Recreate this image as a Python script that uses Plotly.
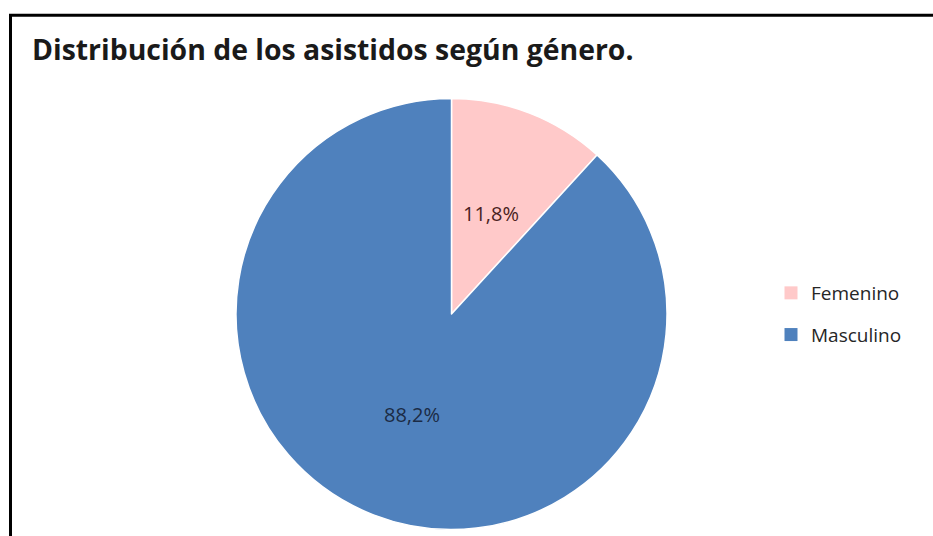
import math
import plotly.graph_objects as go

# Data
genders = ["Femenino", "Masculino"]
shares = [11.8, 88.2]
slice_colors = ["#FFC9C9", "#4F81BD"]
label_colors = ["#4A1F22", "#1B2B45"]
title_text = "Distribución de los asistidos según género."

W, H = 933, 536
# pie placement in pixels
cx, cy, R = 451.5, 314.0, 215.5


def px_x(x):
    return x / W


def px_y(y):
    return 1 - y / H


fig = go.Figure()

fig.add_trace(go.Pie(
    labels=genders,
    values=shares,
    sort=False,
    direction="clockwise",
    rotation=0,
    marker=dict(colors=slice_colors, line=dict(color="white", width=1.5)),
    textinfo="none",
    showlegend=False,
    domain=dict(x=[px_x(cx - R), px_x(cx + R)], y=[px_y(cy + R), px_y(cy - R)]),
))

# legend entries
for g, c in zip(genders, slice_colors):
    fig.add_trace(go.Scatter(
        x=[None], y=[None], mode="markers", name=g, legendgroup=g,
        marker=dict(symbol="square", size=13, color=c),
    ))

# percentage labels at half radius along each slice bisector
total = sum(shares)
cum = 0.0
for v, col in zip(shares, label_colors):
    theta = 2 * math.pi * (cum + v / 2) / total
    cum += v
    lx = cx + 0.5 * R * math.sin(theta)
    ly = cy - 0.5 * R * math.cos(theta)
    fig.add_annotation(
        x=px_x(lx), y=px_y(ly), xref="paper", yref="paper",
        text=f"{v:.1f}%".replace(".", ","), showarrow=False,
        font=dict(family="Open Sans", size=20, color=col),
        xanchor="center", yanchor="middle",
    )

# title
fig.add_annotation(
    x=px_x(30), y=px_y(49), xref="paper", yref="paper",
    text=title_text, showarrow=False, xanchor="left", yanchor="middle",
    font=dict(family="Open Sans", size=28.4, color="#1a1a1a", weight="bold"),
)

# frame lines (left and top)
fig.add_shape(
    type="path", xref="paper", yref="paper",
    path=f"M {px_x(10.5)} {px_y(540)} L {px_x(10.5)} {px_y(15.3)} L {px_x(940)} {px_y(15.3)}",
    line=dict(color="black", width=3),
)

fig.update_layout(
    width=W, height=H,
    margin=dict(l=0, r=0, t=0, b=0),
    paper_bgcolor="white", plot_bgcolor="white",
    xaxis=dict(visible=False), yaxis=dict(visible=False),
    legend=dict(
        x=px_x(771), y=px_y(274), xanchor="left", yanchor="top",
        font=dict(family="Open Sans", size=19, color="#262626"),
        tracegroupgap=14, bgcolor="rgba(0,0,0,0)",
    ),
)

fig.write_html("out.html")
